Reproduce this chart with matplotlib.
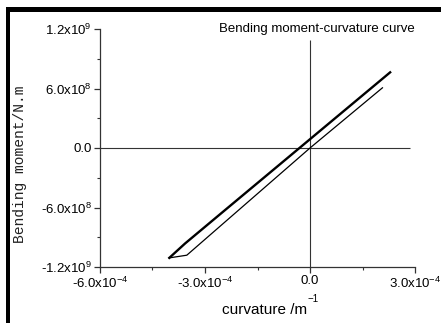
import matplotlib
matplotlib.use("Agg")
import matplotlib.pyplot as plt
from matplotlib.patches import Rectangle
from matplotlib.ticker import FixedLocator, FixedFormatter

plt.rcParams["font.family"] = ["Liberation Sans", "DejaVu Sans"]
plt.rcParams["mathtext.fontset"] = "custom"
plt.rcParams["mathtext.rm"] = "Liberation Sans"
plt.rcParams["mathtext.it"] = "Liberation Sans:italic"
plt.rcParams["mathtext.bf"] = "Liberation Sans:bold"

# Moment-curvature loop: loading branch (upper) and unloading branch (lower)
upper_curv = [-4.02e-4, -3.57e-4, -2.57e-4, 2.29e-4]
upper_moment = [-1.108e9, -9.63e8, -6.68e8, 7.63e8]
lower_curv = [-4.02e-4, -3.52e-4, 0.0, 2.07e-4]
lower_moment = [-1.108e9, -1.081e9, 0.0, 6.07e8]

# Zero reference lines (extent in data units)
zero_h_span = [-6.0e-4, 2.86e-4]
zero_v_span = [-1.2e9, 1.088e9]

x_ticks = [-6.0e-4, -3.0e-4, 0.0, 3.0e-4]
x_labels = [r"-6.0x10$^{-4}$", r"-3.0x10$^{-4}$", "0.0", r"3.0x10$^{-4}$"]
x_minor = [-4.5e-4, -1.5e-4, 1.5e-4]
y_ticks = [-1.2e9, -6.0e8, 0.0, 6.0e8, 1.2e9]
y_labels = [r"-1.2x10$^{9}$", r"-6.0x10$^{8}$", "0.0", r"6.0x10$^{8}$", r"1.2x10$^{9}$"]
y_minor = [-9.0e8, -3.0e8, 3.0e8, 9.0e8]

W, H = 441, 323
fig = plt.figure(figsize=(W / 100, H / 100), dpi=100)
ax = fig.add_axes([100 / W, 1 - 267 / H, 315 / W, 238 / H])

ax.set_xlim(-6.0e-4, 3.0e-4)
ax.set_ylim(-1.2e9, 1.2e9)

spine_c = "#333333"
for s in ("top", "right"):
    ax.spines[s].set_visible(False)
for s in ("left", "bottom"):
    ax.spines[s].set_color(spine_c)
    ax.spines[s].set_linewidth(0.9)

ax.hlines(0, zero_h_span[0], zero_h_span[1], color=spine_c, lw=0.8)
ax.vlines(0, zero_v_span[0], zero_v_span[1], color=spine_c, lw=0.8)

ax.plot(lower_curv, lower_moment, color="black", lw=0.9, solid_joinstyle="miter")
ax.plot(upper_curv, upper_moment, color="black", lw=1.7, solid_joinstyle="miter")

ax.xaxis.set_major_locator(FixedLocator(x_ticks))
ax.xaxis.set_major_formatter(FixedFormatter(x_labels))
ax.xaxis.set_minor_locator(FixedLocator(x_minor))
ax.yaxis.set_major_locator(FixedLocator(y_ticks))
ax.yaxis.set_major_formatter(FixedFormatter(y_labels))
ax.yaxis.set_minor_locator(FixedLocator(y_minor))

ax.tick_params(which="major", direction="out", length=4, width=0.9, color=spine_c,
               labelsize=9.5, pad=2)
ax.tick_params(which="minor", direction="out", length=2.5, width=0.8, color=spine_c)

fig.text(415 / W, 1 - 32 / H, "Bending moment-curvature curve", ha="right",
         va="baseline", fontsize=9.5)
fig.text(222 / W, 1 - 314 / H, "curvature /m", ha="left", va="baseline", fontsize=11)
fig.text(307 / W, 1 - 302 / H, "\u22121", ha="left", va="baseline", fontsize=7)
fig.text(20 / W, 1 - 164 / H, "Bending moment/N.m", rotation=90, ha="center",
         va="center", fontsize=10.5, family=["Liberation Mono", "DejaVu Sans Mono"],
         color="#222222")

# Frame bars along the left and top edges
fig.patches.append(Rectangle((5.5 / W, 0), 4 / W, 1 - 7.3 / H, transform=fig.transFigure,
                             color="black", lw=0))
fig.patches.append(Rectangle((5.5 / W, 1 - 12.3 / H), 1, 5 / H, transform=fig.transFigure,
                             color="black", lw=0))

fig.savefig("out.png", dpi=100)
